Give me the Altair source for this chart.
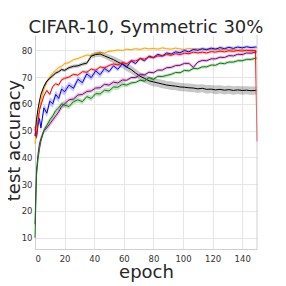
import altair as alt
import pandas as pd

epochs = [0, 1, 2, 3, 4, 6, 8, 10, 12, 14, 16, 18, 20,
          23, 26, 29, 32, 35, 38, 41, 44, 47, 50, 53, 56, 59, 62, 65, 68, 71, 74,
          77, 80, 83, 86, 89, 92, 95, 98, 101, 104, 107, 110, 113, 116, 119, 122,
          125, 128, 131, 134, 137, 140, 143, 146, 149, 150]

orange = [45, 50, 55, 58, 61, 65.5, 68, 70, 71.5, 72.5, 73.5, 74, 75,
          75.4, 76.5, 76.9, 77.6, 78.2, 78, 78.8, 79.2, 79, 79.6, 79.8, 80.1, 79.9, 80.4, 80.2, 80.6,
          80.3, 80.8, 80.5, 80.7, 80.4, 80.9, 80.6, 80.4, 80.8, 80.5, 80.3, 80.7, 80.4, 80.6,
          80.2, 80.5, 80.3, 80.6, 80.2, 80.4, 80.1, 80.3, 80.0, 80.2, 79.9, 80.1, 79.8, 79.7]
orange_sd = [2.5, 2.2, 2.0, 1.8, 1.5, 1.2, 1.0, 1.0, 0.8, 0.8, 0.7, 0.7, 0.6,
             0.6, 0.6, 0.5, 0.5, 0.5, 0.5, 0.5, 0.5, 0.5, 0.5, 0.4, 0.4, 0.4, 0.4, 0.4, 0.4,
             0.4, 0.4, 0.4, 0.4, 0.4, 0.4, 0.4, 0.4, 0.4, 0.4, 0.4, 0.4, 0.4, 0.4,
             0.4, 0.4, 0.4, 0.4, 0.4, 0.4, 0.4, 0.4, 0.4, 0.4, 0.4, 0.4, 0.4, 0.4]

black = [48, 54, 58, 61, 63.5, 66.5, 68.5, 69.5, 70.5, 71.5, 72, 72.8, 72.5,
         73.5, 74, 74.2, 74.8, 75.2, 77.8, 78.4, 78.6, 77.9, 77.2, 76.5, 75.6, 74.8, 73.7, 72.8, 71.5,
         70.3, 69.5, 68.6, 68.2, 67.8, 67.4, 67, 66.8, 66.6, 66.3, 66.2, 66, 65.9, 65.6,
         65.8, 65.4, 65.5, 65.2, 65.4, 65.1, 65.3, 65, 65.2, 65, 65.1, 64.9, 65, 65]
black_sd = [0.6, 0.6, 0.6, 0.6, 0.6, 0.6, 0.6, 0.6, 0.6, 0.6, 0.6, 0.6, 0.6,
            0.7, 0.7, 0.7, 0.7, 0.7, 1.0, 1.0, 1.0, 1.0, 1.2, 1.3, 1.4, 1.5, 1.5, 1.5, 1.5,
            1.5, 1.6, 1.5, 1.6, 1.5, 1.6, 1.5, 1.6, 1.5, 1.6, 1.5, 1.6, 1.5, 1.6,
            1.5, 1.6, 1.5, 1.6, 1.5, 1.6, 1.5, 1.6, 1.5, 1.6, 1.5, 1.6, 1.5, 1.5]

blue = [50.5, 47.5, 52, 54.5, 51, 58.5, 56.5, 61, 60, 63.5, 62, 65.5, 64.5,
        67, 65.8, 69.2, 67.9, 71.2, 69.8, 72.3, 70.9, 73.2, 72, 74.2, 72.9, 75, 73.8, 76, 75,
        77, 76, 77.8, 77.3, 78.5, 77.9, 79, 78.6, 79.4, 79.1, 79.9, 79.4, 80.3, 80,
        80.6, 80.2, 80.8, 80.4, 81, 80.6, 81.1, 80.7, 81.2, 80.9, 81.3, 81, 81.2, 81.1]
blue_sd = [1.5, 1.5, 1.5, 1.5, 1.5, 1.5, 1.5, 1.5, 1.5, 1.5, 1.5, 1.5, 1.5,
           1.2, 1.2, 1.2, 1.2, 1.2, 1.2, 1.2, 1.2, 1.2, 0.8, 0.8, 0.8, 0.7, 0.7, 0.7, 0.6,
           0.6, 0.6, 0.6, 0.6, 0.6, 0.6, 0.6, 0.6, 0.6, 0.6, 0.6, 0.6, 0.6, 0.6,
           0.6, 0.6, 0.6, 0.6, 0.6, 0.6, 0.6, 0.6, 0.6, 0.6, 0.6, 0.6, 0.6, 0.6]

purple = [15, 35, 41, 45, 47, 50, 51, 52.5, 54, 55.5, 57, 59, 60,
          61.5, 61.8, 63.3, 63.5, 64.6, 64.8, 65.9, 66, 67.3, 67, 68.1, 67.8, 68.9, 68.8, 69.8, 69.8,
          70.9, 70.8, 71.8, 71.6, 72.6, 72.6, 73.5, 73.6, 74.3, 74.4, 75.1, 75.1, 73.6, 75.6,
          76.2, 76.1, 76.8, 76.8, 77.4, 77.3, 78, 77.9, 78.5, 78.4, 79, 78.9, 79.3, 79.4]
purple_sd = [1.0, 1.2, 1.2, 1.2, 1.2, 1.2, 1.2, 1.2, 1.2, 1.2, 1.2, 1.2, 1.2,
             0.8, 0.8, 0.8, 0.8, 0.8, 0.8, 0.8, 0.8, 0.8, 0.8, 0.8, 0.8, 0.8, 0.6, 0.6, 0.6,
             0.6, 0.6, 0.6, 0.6, 0.6, 0.6, 0.6, 0.6, 0.6, 0.6, 0.6, 0.6, 0.9, 0.6,
             0.6, 0.6, 0.6, 0.6, 0.6, 0.6, 0.6, 0.6, 0.6, 0.6, 0.6, 0.6, 0.6, 0.6]

green = [10, 33, 39, 43, 46, 50, 52, 54, 55.5, 57.5, 58.5, 60, 59.5,
         59, 60.8, 61.5, 60.8, 62.7, 62, 63.8, 63.7, 65.1, 64.8, 66.3, 66.2, 67.3, 67, 67.8, 68,
         68.8, 68.5, 69.8, 69.1, 70.3, 70.2, 70.6, 71, 71.7, 71.6, 72.5, 72.3, 73.2, 73.1,
         73.8, 73.8, 74.5, 74.4, 75.2, 75, 75.6, 75.6, 76.1, 76.1, 76.6, 76.6, 77, 77.1]
green_sd = [0.5, 0.5, 0.5, 0.5, 0.5, 1.0, 1.0, 1.0, 1.0, 1.0, 1.0, 1.0, 1.0,
            1.0, 1.0, 1.0, 1.0, 1.0, 1.0, 1.0, 1.0, 1.0, 1.0, 1.0, 1.0, 1.0, 0.8, 0.7, 0.6,
            0.6, 0.6, 0.6, 0.6, 0.6, 0.6, 0.6, 0.6, 0.6, 0.6, 0.6, 0.6, 0.6, 0.6,
            0.6, 0.6, 0.6, 0.6, 0.6, 0.6, 0.6, 0.6, 0.6, 0.6, 0.6, 0.6, 0.6, 0.6]

red = [51.5, 47.5, 53, 57.5, 59.5, 63, 65, 63.5, 66.5, 67.5, 67, 69, 69.5,
       70, 71, 70.7, 72, 71.8, 73, 72.5, 73.8, 73.4, 74.3, 74.9, 74.5, 75.4, 75, 76.1, 76,
       76.9, 76.7, 77.5, 77.2, 77.9, 77.8, 78.4, 78.1, 78.7, 78.4, 78.9, 78.7, 79.3, 79,
       79.3, 79.0, 79.5, 79.3, 79.7, 79.4, 79.8, 79.6, 79.9, 79.7, 80, 79.8, 80, 46]
red_sd = [0.6, 0.6, 0.6, 0.6, 0.6, 0.6, 0.6, 0.6, 0.6, 0.6, 0.6, 0.6, 0.6,
          0.6, 0.6, 0.6, 0.6, 0.6, 0.6, 0.6, 0.6, 0.6, 0.6, 0.6, 0.6, 0.6, 0.6, 0.6, 0.6,
          0.6, 0.6, 0.6, 0.6, 0.6, 0.6, 0.6, 0.6, 0.6, 0.6, 0.6, 0.6, 0.6, 0.6,
          0.6, 0.6, 0.6, 0.6, 0.6, 0.6, 0.6, 0.6, 0.6, 0.6, 0.6, 0.6, 0.6, 5.0]

series = [
    ("orange", orange, orange_sd, "#FFA500"),
    ("black", black, black_sd, "#000000"),
    ("blue", blue, blue_sd, "#0000FF"),
    ("purple", purple, purple_sd, "#800080"),
    ("green", green, green_sd, "#008000"),
    ("red", red, red_sd, "#FF0000"),
]

FONT = "DejaVu Sans"
x_enc = alt.X("epoch:Q", scale=alt.Scale(domain=[0, 150], nice=False, zero=False),
              axis=alt.Axis(title="epoch", values=[0, 20, 40, 60, 80, 100, 120, 140],
                            titleFontSize=18, titleFont=FONT, titleFontWeight="normal",
                            titleColor="#262626", titleBaseline="alphabetic",
                            titleX=111, titleY=28, titleAlign="center", labelPadding=5))
y_scale = alt.Scale(domain=[5.8, 85.7], nice=False, zero=False)
y_axis = alt.Axis(title="test accuracy", values=[10, 20, 30, 40, 50, 60, 70, 80],
                  titleFontSize=18, titleFont=FONT, titleFontWeight="normal",
                  titleColor="#262626", titleBaseline="alphabetic", titleAngle=270,
                  titleX=-16, titleY=105, titleAlign="center", labelPadding=3)

layers = []
for name, vals, sds, col in series:
    df = pd.DataFrame({
        "epoch": epochs,
        "acc": vals,
        "lo": [v - s for v, s in zip(vals, sds)],
        "hi": [v + s for v, s in zip(vals, sds)],
    })
    band = alt.Chart(df).mark_area(color=col, opacity=0.22).encode(
        x=x_enc, y=alt.Y("lo:Q", scale=y_scale, axis=y_axis), y2="hi:Q")
    line = alt.Chart(df).mark_line(color=col, strokeWidth=1.0).encode(
        x=x_enc, y=alt.Y("acc:Q", scale=y_scale, axis=y_axis))
    layers += [band, line]

spine = alt.Chart(pd.DataFrame({"epoch": [150]})).mark_rule(color="#D0D0D0", strokeWidth=1).encode(x=x_enc)
layers.append(spine)

chart = alt.layer(*layers).properties(
    width=222, height=214,
    autosize=alt.AutoSizeParams(type="none"),
    padding={"left": 27, "top": 27, "right": 21, "bottom": 37},
    title=alt.TitleParams("CIFAR-10, Symmetric 30%", fontSize=18, font=FONT, fontWeight="normal",
                          color="#262626", anchor="middle", baseline="alphabetic", offset=2, dy=18),
).configure_view(stroke=None).configure_axis(
    grid=True, gridColor="#E6E6E6", gridWidth=1, domainColor="#D0D0D0", domainWidth=1,
    tickSize=0, labelFont=FONT, labelFontSize=8.5, labelColor="#333333",
)

chart.save("out.html", embed_options={"renderer": "svg", "actions": False})
